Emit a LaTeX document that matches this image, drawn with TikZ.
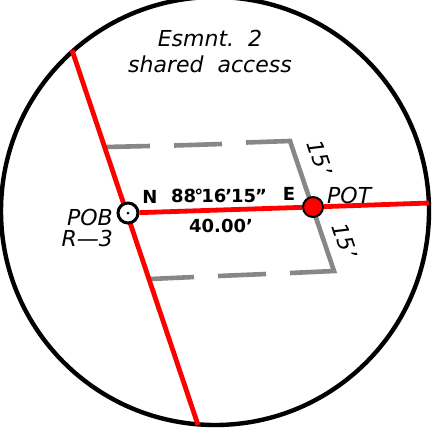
\documentclass[tikz,border=0pt]{standalone}
\usepackage{fontspec}
\setmainfont{DejaVu Sans}
\tikzset{
  x=1pt,y=-1pt,
  redline/.style={draw=red,line width=4.8pt},
  esmt/.style={draw=black!47,line width=4.6pt,line join=miter},
  border/.style={draw=black,line width=4.4pt},
  plainlabel/.style={font=\fontsize{22}{24}\selectfont\itshape,inner sep=0pt,text=black},
  boldlabel/.style={font=\fontsize{18}{20}\selectfont\bfseries,inner sep=0pt,text=black},
  pobmark/.style={circle,draw=black,fill=white,line width=3pt,minimum size=20pt,inner sep=0pt},
  potmark/.style={circle,draw=black,fill=red,line width=2pt,minimum size=20pt,inner sep=0pt},
}
\begin{document}
\begin{tikzpicture}
\useasboundingbox (0,0) rectangle (438,434);
\clip (0,0) rectangle (438,434);
\fill[white] (0,0) rectangle (438,434);
\coordinate (c) at (215,211);
\coordinate (rt) at (72,50);
\coordinate (rb) at (198,425);
\coordinate (re) at (429,203);
\coordinate (a) at (106,147);
\coordinate (b) at (290,141);
\coordinate (d) at (334,271);
\coordinate (e) at (150,279);
\draw[border] (c) circle[radius=214];
% easement outline
\draw[esmt] (a) -- (150,146);
\draw[esmt] (174,145.5) -- (222,144);
\draw[esmt] (246,142.5) -- (b) -- (d) -- (290,273);
\draw[esmt] (266,274) -- (218,276);
\draw[esmt] (194,277) -- (e);
% red lines
\draw[redline] (rt) -- (rb);
\node[pobmark] (pob) at (128,213) {};
\node[potmark] (pot) at (313,207) {};
\draw[redline] (pob) -- (pot);
\draw[redline] (pot) -- (re);
\fill[black] (pob.center) circle[radius=1.5];
% labels
\node[plainlabel] (l1) at (210,38) {Esmnt.\ \ 2};
\node[plainlabel] (l2) at (210,64) {shared\ \ access};
\node[plainlabel,anchor=east] (l3) at (113,217) {POB};
\node[plainlabel,anchor=east] (l4) at (113,238) {R—3};
\node[plainlabel,anchor=west] (l5) at (327,195) {POT};
\node[boldlabel] (l6) at (150,197) {N};
\node[boldlabel,anchor=west] (l7) at (171,196) {88\kern-2pt°\kern-2pt16\kern-1pt'\kern-1pt15\kern-1pt"};
\node[boldlabel] (l8) at (289,194) {E};
\node[boldlabel] (l9) at (221,226) {40.00'};
\node[plainlabel,rotate=-72] (l10) at (320,158) {15\kern1pt'};
\node[plainlabel,rotate=-72] (l11) at (345,241) {15\kern1pt'};
\end{tikzpicture}
\end{document}
